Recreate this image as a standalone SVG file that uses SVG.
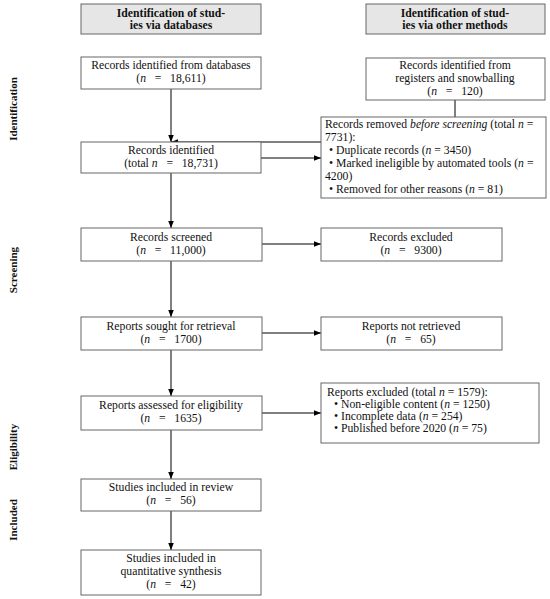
<svg xmlns="http://www.w3.org/2000/svg" width="550" height="599" viewBox="0 0 550 599">
<defs>
<marker id="ah" viewBox="0 0 10 10" refX="10" refY="5" markerWidth="7" markerHeight="7" orient="auto" markerUnits="userSpaceOnUse">
<path d="M0,1 L10,5 L0,9 z" fill="#000"/>
</marker>
<style>
.box{fill:#fff;stroke:#666;stroke-width:1}
.hdr{fill:#e6e6e6;stroke:#666;stroke-width:1}
text{font-family:"Liberation Serif","Times New Roman",serif;font-size:11.7px;fill:#111}
.c{text-anchor:middle}
.b{font-weight:bold}
.i{font-style:italic}
.side{font-weight:bold;text-anchor:middle;font-size:11px}
.ln{fill:none;stroke:#000;stroke-width:1}
</style>
</defs>
<rect width="550" height="599" fill="#fff"/>

<g id="side-labels">
<text class="side" transform="translate(17,109) rotate(-90)">Identification</text>
<text class="side" transform="translate(17,270) rotate(-90)">Screening</text>
<text class="side" transform="translate(17,447) rotate(-90)">Eligibility</text>
<text class="side" transform="translate(17,520) rotate(-90)">Included</text>
</g>

<g id="connectors">
<line class="ln" x1="171" y1="89" x2="171" y2="142" marker-end="url(#ah)"/>
<polyline class="ln" points="455,100 455,142 171,142" marker-end="url(#ah)"/>
<line class="ln" x1="261" y1="158" x2="321" y2="158" marker-end="url(#ah)"/>
<line class="ln" x1="171" y1="173" x2="171" y2="228" marker-end="url(#ah)"/>
<line class="ln" x1="262" y1="244" x2="321" y2="244" marker-end="url(#ah)"/>
<line class="ln" x1="171" y1="261" x2="171" y2="317" marker-end="url(#ah)"/>
<line class="ln" x1="262" y1="333" x2="321" y2="333" marker-end="url(#ah)"/>
<line class="ln" x1="171" y1="350" x2="171" y2="396" marker-end="url(#ah)"/>
<line class="ln" x1="262" y1="413" x2="321" y2="413" marker-end="url(#ah)"/>
<line class="ln" x1="171" y1="430" x2="171" y2="479" marker-end="url(#ah)"/>
<line class="ln" x1="171" y1="511" x2="171" y2="550" marker-end="url(#ah)"/>
</g>

<g id="header-databases">
<rect class="hdr" x="81" y="4" width="180" height="30"/>
<text class="c b" x="171" y="17">Identification of stud-</text>
<text class="c b" x="171" y="29">ies via databases</text>
</g>

<g id="header-other">
<rect class="hdr" x="366" y="4" width="179" height="30"/>
<text class="c b" x="455" y="17">Identification of stud-</text>
<text class="c b" x="455" y="29">ies via other methods</text>
</g>

<g id="records-databases">
<rect class="box" x="81" y="57" width="180" height="32"/>
<text class="c" x="171" y="69">Records identified from databases</text>
<text class="c" x="171" y="82" xml:space="preserve">(<tspan class="i">n</tspan>   =   18,611)</text>
</g>

<g id="records-registers">
<rect class="box" x="366" y="58" width="179" height="42"/>
<text class="c" x="455" y="69">Records identified from</text>
<text class="c" x="455" y="82">registers and snowballing</text>
<text class="c" x="455" y="95" xml:space="preserve">(<tspan class="i">n</tspan>   =   120)</text>
</g>

<g id="records-identified">
<rect class="box" x="81" y="142" width="180" height="31"/>
<text class="c" x="171" y="154">Records identified</text>
<text class="c" x="171" y="167" xml:space="preserve">(total <tspan class="i">n</tspan>   =   18,731)</text>
</g>

<g id="records-removed">
<rect class="box" x="321" y="117" width="225" height="81"/>
<text x="325" y="128">Records removed <tspan class="i">before screening</tspan> (total <tspan class="i">n</tspan> =</text>
<text x="325" y="141">7731):</text>
<text x="329" y="154">• Duplicate records (<tspan class="i">n</tspan> = 3450)</text>
<text x="329" y="167">• Marked ineligible by automated tools (<tspan class="i">n</tspan> =</text>
<text x="325" y="180">4200)</text>
<text x="329" y="193">• Removed for other reasons (<tspan class="i">n</tspan> = 81)</text>
</g>

<g id="records-screened">
<rect class="box" x="81" y="228" width="181" height="33"/>
<text class="c" x="171" y="241">Records screened</text>
<text class="c" x="171" y="254" xml:space="preserve">(<tspan class="i">n</tspan>   =   11,000)</text>
</g>

<g id="records-excluded">
<rect class="box" x="321" y="228" width="181" height="33"/>
<text class="c" x="411" y="241">Records excluded</text>
<text class="c" x="411" y="254" xml:space="preserve">(<tspan class="i">n</tspan>   =   9300)</text>
</g>

<g id="reports-sought">
<rect class="box" x="81" y="317" width="181" height="33"/>
<text class="c" x="171" y="330">Reports sought for retrieval</text>
<text class="c" x="171" y="343" xml:space="preserve">(<tspan class="i">n</tspan>   =   1700)</text>
</g>

<g id="reports-not-retrieved">
<rect class="box" x="321" y="317" width="181" height="33"/>
<text class="c" x="411" y="330">Reports not retrieved</text>
<text class="c" x="411" y="343" xml:space="preserve">(<tspan class="i">n</tspan>   =   65)</text>
</g>

<g id="reports-assessed">
<rect class="box" x="81" y="396" width="181" height="34"/>
<text class="c" x="171" y="409">Reports assessed for eligibility</text>
<text class="c" x="171" y="422" xml:space="preserve">(<tspan class="i">n</tspan>   =   1635)</text>
</g>

<g id="reports-excluded">
<rect class="box" x="321" y="383" width="218" height="60"/>
<text x="327" y="396">Reports excluded (total <tspan class="i">n</tspan> = 1579):</text>
<text x="334" y="408">• Non-eligible content (<tspan class="i">n</tspan> = 1250)</text>
<text x="334" y="420">• Incomplete data (<tspan class="i">n</tspan> = 254)</text>
<text x="334" y="432">• Published before 2020 (<tspan class="i">n</tspan> = 75)</text>
</g>

<g id="studies-review">
<rect class="box" x="81" y="479" width="180" height="32"/>
<text class="c" x="171" y="491">Studies included in review</text>
<text class="c" x="171" y="504" xml:space="preserve">(<tspan class="i">n</tspan>   =   56)</text>
</g>

<g id="studies-quantitative">
<rect class="box" x="81" y="550" width="180" height="45"/>
<text class="c" x="171" y="562">Studies included in</text>
<text class="c" x="171" y="575">quantitative synthesis</text>
<text class="c" x="171" y="588" xml:space="preserve">(<tspan class="i">n</tspan>   =   42)</text>
</g>
</svg>
